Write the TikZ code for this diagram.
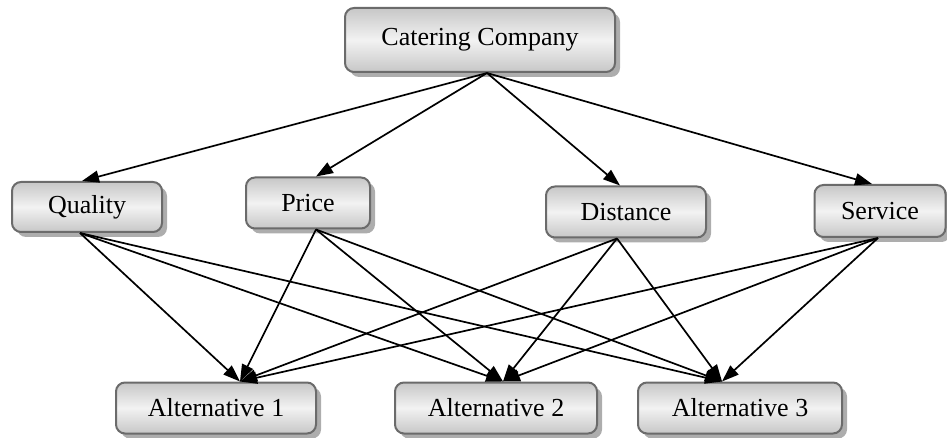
\documentclass[tikz,border=0pt]{standalone}
\usepackage{fontspec}
\setmainfont{Liberation Serif}
\usetikzlibrary{shadows,arrows.meta}
\begin{document}
\begin{tikzpicture}[x=1pt,y=-1pt,
  box/.style={draw=black!58, line width=2pt, rounded corners=9pt,
    top color=black!22, bottom color=black!22, middle color=black!5,
    drop shadow={shadow xshift=5pt, shadow yshift=-5pt, fill=black!32, opacity=1},
    font=\fontsize{26}{30}\selectfont, inner sep=0pt, align=center},
  conn/.style={line width=1.7pt, -{Triangle[length=17pt,width=12pt]}}]
\useasboundingbox (0,0) rectangle (947,438);
\node[box, minimum width=270pt, minimum height=64pt] (cat) at (480,40) {Catering Company};
\node[box, minimum width=150pt, minimum height=50pt] (q) at (87,207) {Quality};
\node[box, minimum width=124pt, minimum height=51pt] (p) at (308,203) {Price};
\node[box, minimum width=160pt, minimum height=51pt] (d) at (626,212) {Distance};
\node[box, minimum width=131pt, minimum height=52pt] (s) at (880,211) {Service};
\node[box, minimum width=200pt, minimum height=51pt] (a1) at (216,408) {Alternative 1};
\node[box, minimum width=202pt, minimum height=51pt] (a2) at (496,408) {Alternative 2};
\node[box, minimum width=204pt, minimum height=51pt] (a3) at (740,408) {Alternative 3};
\coordinate (ct) at ([xshift=7pt]cat.south);
\draw[conn] (ct) -- ([xshift=-5pt]q.north);
\draw[conn] (ct) -- ([xshift=8pt]p.north);
\draw[conn] (ct) -- ([xshift=-6pt]d.north);
\draw[conn] (ct) -- ([xshift=-8pt]s.north);
\coordinate (qb) at ([xshift=-7pt]q.south);
\coordinate (pb) at ([xshift=8pt]p.south);
\coordinate (db) at ([xshift=-9pt]d.south);
\coordinate (sb) at ([xshift=-2pt]s.south);
\coordinate (t1) at ([xshift=24pt]a1.north);
\coordinate (t2) at ([xshift=7pt]a2.north);
\coordinate (t3) at ([xshift=-18pt]a3.north);
\foreach \src in {qb,pb,db,sb}{
  \foreach \dst in {t1,t2,t3}{
    \draw[conn] (\src) -- (\dst);
  }
}
\end{tikzpicture}
\end{document}
